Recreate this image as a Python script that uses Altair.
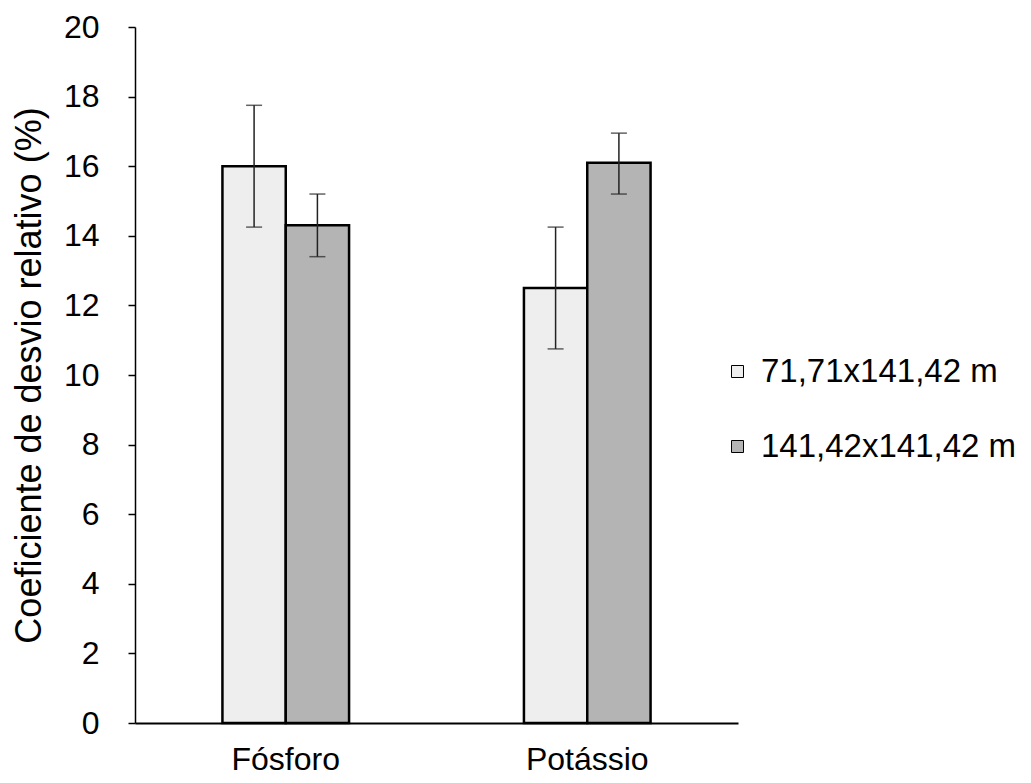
import altair as alt
import pandas as pd

categories = ["Fósforo", "Fósforo", "Potássio", "Potássio"]
series = ["71,71x141,42 m", "141,42x141,42 m", "71,71x141,42 m", "141,42x141,42 m"]
values = [16.0, 14.3, 12.5, 16.1]
err_low = [14.25, 13.4, 10.75, 15.2]
err_high = [17.75, 15.2, 14.25, 16.95]

series_order = ["71,71x141,42 m", "141,42x141,42 m"]
category_order = ["Fósforo", "Potássio"]
y_ticks = [0, 2, 4, 6, 8, 10, 12, 14, 16, 18, 20]

df = pd.DataFrame({
    "cat": categories,
    "series": series,
    "value": values,
    "lo": err_low,
    "hi": err_high,
})

FONT = "Liberation Sans"

x_enc = alt.X(
    "cat:N",
    sort=category_order,
    scale=alt.Scale(paddingInner=0.58, paddingOuter=0.29),
    axis=alt.Axis(
        title=None, labelAngle=0, ticks=False, labelFontSize=32,
        labelPadding=21, labelColor="black", labelFont=FONT,
        domainColor="black", domainWidth=2,
    ),
)
xoff = alt.XOffset("series:N", sort=series_order,
                   scale=alt.Scale(domain=series_order, paddingInner=0, paddingOuter=0))

bars = alt.Chart(df).mark_bar(stroke="black", strokeWidth=2.5).encode(
    x=x_enc,
    xOffset=xoff,
    y=alt.Y(
        "value:Q",
        scale=alt.Scale(domain=[0, 20], nice=False),
        axis=alt.Axis(
            values=y_ticks, grid=False, tickSize=7, tickColor="black",
            tickWidth=1.5, labelFontSize=32, labelFont=FONT, labelColor="black",
            labelPadding=29, domainColor="black", domainWidth=1.5,
            title="Coeficiente de desvio relativo (%)", titleFontSize=36,
            titleFont=FONT, titleFontWeight="normal", titleColor="black",
            titleX=-95, titleBaseline="alphabetic",
        ),
    ),
    fill=alt.Fill(
        "series:N",
        scale=alt.Scale(domain=series_order, range=["#eeeeee", "#b4b4b4"]),
        legend=alt.Legend(
            title=None, orient="none", legendX=586, legendY=328,
            symbolType="square", symbolSize=144, symbolStrokeColor="black",
            symbolStrokeWidth=1, labelFontSize=33, labelFont=FONT,
            labelColor="black", labelOffset=7, rowPadding=41, padding=0,
            labelLimit=0,
        ),
    ),
)

rules = alt.Chart(df).mark_rule(color="#222222", strokeWidth=1.5).encode(
    x=alt.X("cat:N", sort=category_order),
    xOffset=alt.XOffset("series:N", sort=series_order),
    y="lo:Q",
    y2="hi:Q",
)

caps_lo = alt.Chart(df).mark_tick(color="#222222", thickness=1.5, size=16).encode(
    x=alt.X("cat:N", sort=category_order),
    xOffset=alt.XOffset("series:N", sort=series_order),
    y="lo:Q",
)
caps_hi = alt.Chart(df).mark_tick(color="#222222", thickness=1.5, size=16).encode(
    x=alt.X("cat:N", sort=category_order),
    xOffset=alt.XOffset("series:N", sort=series_order),
    y="hi:Q",
)

chart = (
    alt.layer(bars, rules, caps_lo, caps_hi)
    .properties(
        width=603,
        height=696,
        autosize=alt.AutoSizeParams(type="none"),
        padding={"left": 127, "top": 19, "right": 285, "bottom": 60},
        background="white",
    )
    .configure_view(stroke=None)
)

chart.save("out.html", embed_options={"renderer": "svg", "actions": False})
